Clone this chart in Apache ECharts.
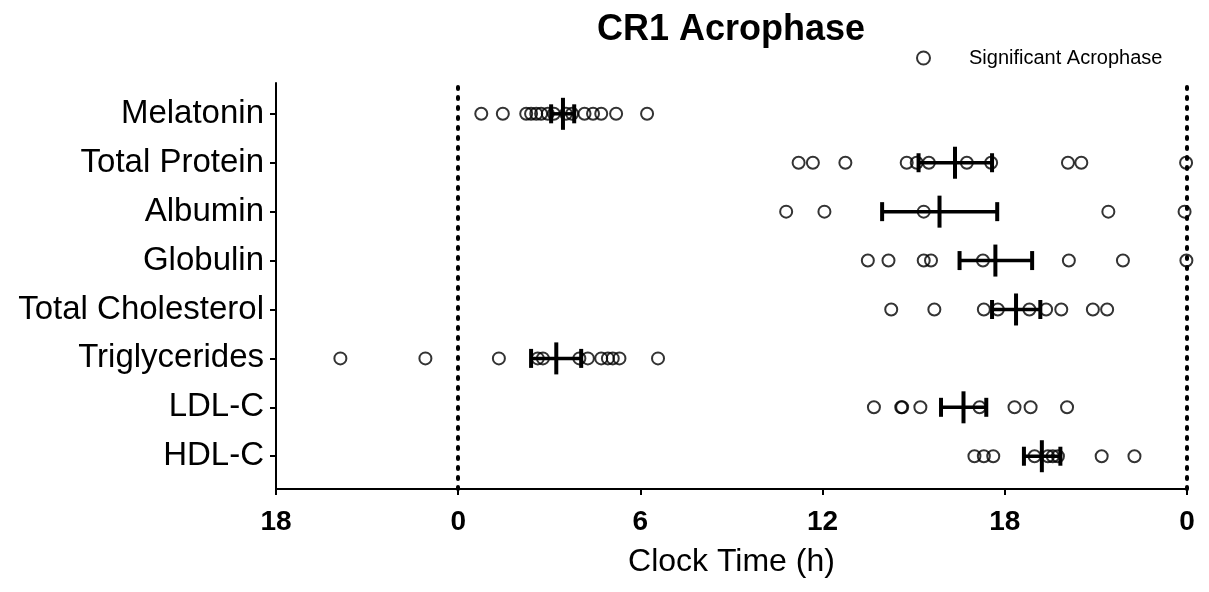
<!DOCTYPE html>
<html>
<head>
<meta charset="utf-8">
<script src="https://cdn.jsdelivr.net/npm/echarts@6/dist/echarts.min.js"></script>
<style>
  html, body { margin: 0; padding: 0; background: #fff; }
  #chart { width: 1209px; height: 592px; }
</style>
</head>
<body>
<div id="chart"></div>
<script>
// rows, top to bottom
var categories = ['Melatonin', 'Total Protein', 'Albumin', 'Globulin',
  'Total Cholesterol', 'Triglycerides', 'LDL-C', 'HDL-C'];

// acrophases (h) on the plotted clock axis, which runs 18 -> 0 -> ... -> 0 (-6..24)
var melatonin = [0.76, 1.47, 2.24, 2.40, 2.57, 2.73, 2.95, 3.15, 3.55, 3.75, 4.16, 4.44, 4.71, 5.20, 6.22];
var totalProtein = [11.21, 11.68, 12.75, 14.77, 15.10, 15.50, 16.75, 17.55, 20.08, 20.52, 23.97];
var albumin = [10.80, 12.06, 15.33, 21.41, 23.92];
var globulin = [13.49, 14.17, 15.33, 15.57, 17.28, 20.11, 21.89, 23.98];
var totalCholesterol = [14.26, 15.68, 17.31, 17.77, 18.81, 19.36, 19.86, 20.90, 21.37];
var triglycerides = [-3.88, -1.08, 1.34, 2.62, 2.79, 3.99, 4.27, 4.71, 4.93, 5.09, 5.31, 6.58];
var ldlC = [13.69, 14.59, 14.62, 15.22, 17.17, 18.32, 18.85, 20.05];
var hdlC = [17.00, 17.31, 17.62, 18.98, 19.42, 19.58, 19.75, 21.19, 22.27];

// mean acrophase with error bar ends
var means = [3.45, 16.36, 15.85, 17.69, 18.37, 3.23, 16.64, 19.22];
var lower = [3.06, 15.16, 13.96, 16.51, 17.58, 2.40, 15.90, 18.63];
var upper = [3.82, 17.58, 17.75, 18.90, 19.17, 4.05, 17.39, 19.83];

var rows = [melatonin, totalProtein, albumin, globulin, totalCholesterol, triglycerides, ldlC, hdlC];
var n = categories.length;
var rowTicks = [1, 2, 3, 4, 5, 6, 7, 8];
var font = '"Liberation Sans", Arial, sans-serif';

var points = [];
rows.forEach(function (vals, i) {
  vals.forEach(function (v) { points.push([v, n - i]); });
});
var summary = means.map(function (m, i) { return [m, n - i, lower[i], upper[i]]; });

var chart = echarts.init(document.getElementById('chart'));
chart.setOption({
  animation: false,
  backgroundColor: '#fff',
  title: {
    text: 'CR1 Acrophase',
    left: 731, top: 12, textAlign: 'center', padding: 0,
    textStyle: { fontFamily: font, fontSize: 36, fontWeight: 'bold', color: '#000' }
  },
  legend: {
    data: ['Significant Acrophase'],
    left: 916, top: 48, padding: 0,
    itemWidth: 13, itemHeight: 13,
    textStyle: { fontFamily: font, fontSize: 20, color: '#000', padding: [0, 0, 0, 34] }
  },
  grid: { left: 276, right: 22, top: 83, bottom: 103 },
  xAxis: {
    type: 'value', min: -6, max: 24, interval: 6,
    name: 'Clock Time (h)', nameLocation: 'middle', nameGap: 57,
    nameTextStyle: { fontFamily: font, fontSize: 32, color: '#000' },
    axisLine: { onZero: false, lineStyle: { color: '#000', width: 2 } },
    axisTick: { length: 6, lineStyle: { color: '#000', width: 2 } },
    axisLabel: {
      margin: 19, fontFamily: font, fontSize: 28, fontWeight: 'bold', color: '#000',
      formatter: function (v) { return String(((v % 24) + 24) % 24); }
    },
    splitLine: { show: false }
  },
  yAxis: {
    type: 'value', min: 0.33, max: 8.63,
    axisLine: { show: true, onZero: false, lineStyle: { color: '#000', width: 2 } },
    axisTick: { show: true, length: 6, customValues: rowTicks, lineStyle: { color: '#000', width: 2 } },
    axisLabel: {
      margin: 12, fontFamily: font, fontSize: 33, color: '#000',
      customValues: rowTicks,
      formatter: function (v) { return categories[n - Math.round(v)] || ''; }
    },
    splitLine: { show: false }
  },
  series: [
    {
      name: 'Significant Acrophase',
      type: 'scatter',
      symbol: 'circle', symbolSize: 12, clip: false,
      itemStyle: { color: 'rgba(0,0,0,0)', borderColor: '#000', borderWidth: 2 },
      data: points,
      markLine: {
        silent: true, symbol: 'none', label: { show: false },
        lineStyle: { color: '#000', width: 4, type: [2, 8], cap: 'round' },
        data: [{ xAxis: 0 }, { xAxis: 24 }]
      },
      z: 3
    },
    {
      name: 'mean',
      type: 'custom',
      data: summary,
      encode: { x: 0, y: 1 },
      renderItem: function (params, api) {
        var c = api.coord([api.value(0), api.value(1)]);
        var lo = api.coord([api.value(2), api.value(1)]);
        var hi = api.coord([api.value(3), api.value(1)]);
        var thick = { stroke: '#000', lineWidth: 4 };
        return {
          type: 'group',
          children: [
            { type: 'line', shape: { x1: lo[0], y1: c[1], x2: hi[0], y2: c[1] }, style: { stroke: '#000', lineWidth: 3.5 } },
            { type: 'line', shape: { x1: lo[0], y1: c[1] - 9.5, x2: lo[0], y2: c[1] + 9.5 }, style: thick },
            { type: 'line', shape: { x1: hi[0], y1: c[1] - 9.5, x2: hi[0], y2: c[1] + 9.5 }, style: thick },
            { type: 'line', shape: { x1: c[0], y1: c[1] - 16, x2: c[0], y2: c[1] + 16 }, style: thick }
          ]
        };
      },
      z: 4
    }
  ]
});
</script>
</body>
</html>
